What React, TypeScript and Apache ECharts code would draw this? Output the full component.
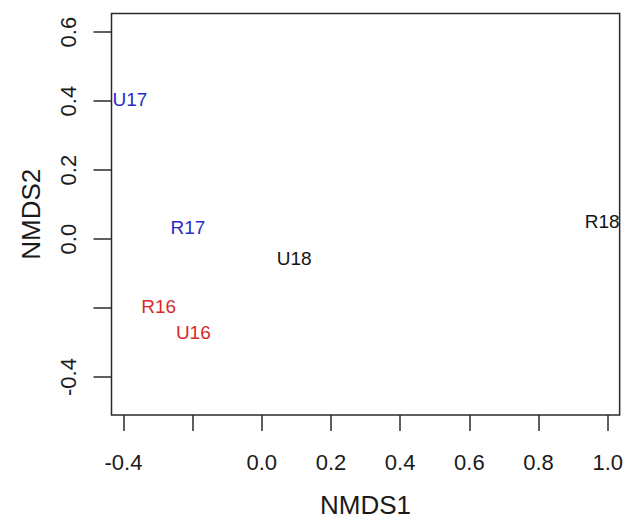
import React, { useEffect, useRef } from "react";
import * as echarts from "echarts";

const sampleNames = ["U17", "R17", "U18", "R18", "R16", "U16"];
const nmds1 = [-0.381, -0.2135, 0.0935, 0.984, -0.298, -0.198];
const nmds2 = [0.404, 0.033, -0.056, 0.05, -0.196, -0.271];
const sampleYear = ["17", "17", "18", "18", "16", "16"];

const xTicks = [-0.4, -0.2, 0.0, 0.2, 0.4, 0.6, 0.8, 1.0];
const xTickLabels = [-0.4, 0.0, 0.2, 0.4, 0.6, 0.8, 1.0];
const yTicks = [-0.4, -0.2, 0.0, 0.2, 0.4, 0.6];
const yTickLabels = [-0.4, 0.0, 0.2, 0.4, 0.6];

const yearColor: Record<string, string> = {
  "16": "#d92b2b",
  "17": "#2a2ac6",
  "18": "#141414",
};

export default function App() {
  const ref = useRef<HTMLDivElement>(null);
  useEffect(() => {
    if (!ref.current) return;
    const chart = echarts.init(ref.current, undefined, { renderer: "svg" });
    const font = "'Liberation Sans', Arial, sans-serif";
    const data = sampleNames.map((n, i) => ({
      name: n,
      value: [nmds1[i], nmds2[i]],
      label: { color: yearColor[sampleYear[i]] },
    }));
    chart.setOption({
      animation: false,
      backgroundColor: "#ffffff",
      grid: {
        left: 111.5,
        right: 4,
        top: 13.5,
        bottom: 103.5,
        show: true,
        borderColor: "#2a2a2a",
        borderWidth: 1.5,
        backgroundColor: "transparent",
      },
      xAxis: {
        type: "value",
        min: -0.4345,
        max: 1.0345,
        splitLine: { show: false },
        axisLine: { show: false, onZero: false },
        axisTick: {
          show: true,
          length: 16,
          customValues: xTicks,
          lineStyle: { color: "#2a2a2a", width: 1.5 },
        },
        axisLabel: {
          customValues: xTickLabels,
          formatter: (v: number) => v.toFixed(1),
          fontFamily: font,
          fontSize: 22,
          color: "#1a1a1a",
          margin: 36,
        },
        name: "NMDS1",
        nameLocation: "middle",
        nameGap: 77,
        nameTextStyle: { fontFamily: font, fontSize: 26, color: "#1a1a1a" },
      },
      yAxis: {
        type: "value",
        min: -0.51,
        max: 0.654,
        splitLine: { show: false },
        axisLine: { show: false, onZero: false },
        axisTick: {
          show: true,
          length: 18,
          customValues: yTicks,
          lineStyle: { color: "#2a2a2a", width: 1.5 },
        },
        axisLabel: {
          customValues: yTickLabels,
          formatter: (v: number) => v.toFixed(1),
          rotate: 90,
          fontFamily: font,
          fontSize: 22,
          color: "#1a1a1a",
          margin: 32,
        },
        name: "NMDS2",
        nameLocation: "middle",
        nameGap: 68,
        nameRotate: 90,
        nameTextStyle: { fontFamily: font, fontSize: 26, color: "#1a1a1a" },
      },
      series: [
        {
          type: "scatter",
          symbol: "circle",
          symbolSize: 1,
          itemStyle: { color: "rgba(0,0,0,0)", opacity: 1 },
          label: {
            show: true,
            position: "inside",
            formatter: (p: any) => p.name,
            fontFamily: font,
            fontSize: 19,
          },
          data,
        },
      ],
    });
    return () => chart.dispose();
  }, []);
  return (
    <div
      ref={ref}
      style={{ position: "fixed", left: 0, top: 0, width: 626, height: 523 }}
    />
  );
}
